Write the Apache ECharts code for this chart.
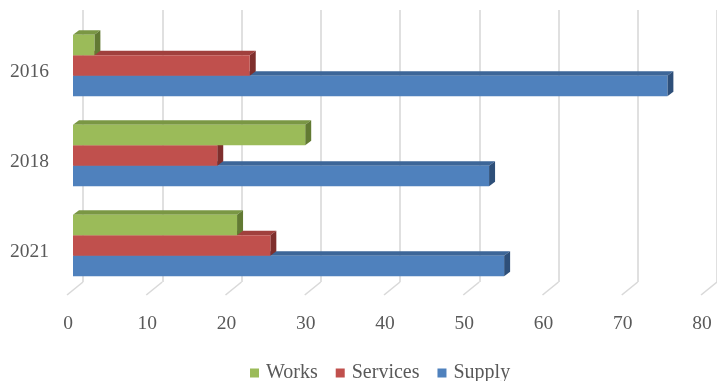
<!DOCTYPE html>
<html>
<head>
<meta charset="utf-8">
<script src="https://cdn.jsdelivr.net/npm/echarts@6/dist/echarts.min.js"></script>
<style>
  html, body { margin: 0; padding: 0; background: #ffffff; }
  #chart { width: 717px; height: 381px; }
</style>
</head>
<body>
<div id="chart"></div>
<script>
// Share of contracts by type, per year (percent)
const years = ['2016', '2018', '2021'];
const works = [2.7, 29.3, 20.7];
const services = [22.3, 18.2, 24.9];
const supply = [75.0, 52.5, 54.4];
const tickValues = [0, 10, 20, 30, 40, 50, 60, 70, 80];

const FONT = '"Liberation Serif", "Times New Roman", serif';
const GRID_COLOR = '#D9D9D9';

// Face colours for the pseudo-3D boxes: front, top, side
const palette = {
  Works:    { front: '#9BBB59', top: '#7A9744', side: '#627A33' },
  Services: { front: '#C0504D', top: '#A0403D', side: '#7F2F2D' },
  Supply:   { front: '#4F81BD', top: '#3D6698', side: '#2E4F79' }
};

// Depth offset of the boxes (right, up)
const DX = 6, DY = 4.5;

function boxRenderer(name, slot) {
  const c = palette[name];
  return function (params, api) {
    const v = api.value(0);
    const cat = api.value(1);
    const p0 = api.coord([0, cat]);
    const p1 = api.coord([v, cat]);
    const band = api.size([0, 1])[1];
    const h = band * 0.227;
    const top = p0[1] + (slot - 1.5) * h;
    const x0 = p0[0], x1 = p1[0];
    return {
      type: 'group',
      children: [
        {
          type: 'polygon',
          shape: { points: [[x0, top], [x0 + DX, top - DY], [x1 + DX, top - DY], [x1, top]] },
          style: { fill: c.top }
        },
        {
          type: 'polygon',
          shape: { points: [[x1, top], [x1 + DX, top - DY], [x1 + DX, top + h - DY], [x1, top + h]] },
          style: { fill: c.side }
        },
        {
          type: 'rect',
          shape: { x: x0, y: top, width: x1 - x0, height: h },
          style: { fill: c.front }
        }
      ]
    };
  };
}

function boxSeries(name, values, slot) {
  return {
    name: name,
    type: 'custom',
    xAxisIndex: 0,
    yAxisIndex: 0,
    itemStyle: { color: palette[name].front },
    encode: { x: 0, y: 1 },
    data: values.map((v, i) => [v, i]),
    renderItem: boxRenderer(name, slot),
    z: 3
  };
}

const chart = echarts.init(document.getElementById('chart'), null, { renderer: 'canvas' });

chart.setOption({
  backgroundColor: '#ffffff',
  animation: false,
  grid: [
    // bars
    { left: 73, width: 634, top: 20.5, height: 270 },
    // back wall with vertical gridlines
    { left: 83, width: 636, top: 10, bottom: 99 },
    // front edge carrying the value labels
    { left: 68, width: 634, top: 290, bottom: 80 },
    // front edge carrying the year labels
    { left: 73, width: 634, top: 27, height: 270 }
  ],
  xAxis: [
    { gridIndex: 0, type: 'value', min: 0, max: 80, interval: 10, show: false },
    {
      gridIndex: 1, type: 'value', min: 0, max: 80, interval: 10,
      axisLine: { show: false }, axisTick: { show: false }, axisLabel: { show: false },
      splitLine: { show: true, lineStyle: { color: GRID_COLOR, width: 1.6 } }
    },
    {
      gridIndex: 2, type: 'value', min: 0, max: 80, interval: 10,
      axisLine: { show: false }, axisTick: { show: false }, splitLine: { show: false },
      axisLabel: { color: '#595959', fontFamily: FONT, fontSize: 19.5, margin: 13 }
    },
    { gridIndex: 3, type: 'value', min: 0, max: 80, interval: 10, show: false }
  ],
  yAxis: [
    { gridIndex: 0, type: 'category', inverse: true, data: years, show: false },
    { gridIndex: 1, type: 'value', min: 0, max: 1, show: false },
    { gridIndex: 2, type: 'value', min: 0, max: 1, show: false },
    {
      gridIndex: 3, type: 'category', inverse: true, data: years,
      axisLine: { show: false }, axisTick: { show: false }, splitLine: { show: false },
      axisLabel: { color: '#595959', fontFamily: FONT, fontSize: 19.5, margin: 24 }
    }
  ],
  legend: {
    data: ['Works', 'Services', 'Supply'],
    left: 245,
    top: 358,
    icon: 'rect',
    itemWidth: 9,
    itemHeight: 9,
    itemGap: 18,
    textStyle: { color: '#595959', fontFamily: FONT, fontSize: 20, padding: [0, 0, 0, 2] }
  },
  series: [
    // slanted floor lines running from the back wall to the front edge
    {
      type: 'custom',
      xAxisIndex: 1,
      yAxisIndex: 1,
      silent: true,
      encode: { x: 0, y: 1 },
      data: tickValues.map(v => [v, 0]),
      renderItem: function (params, api) {
        const p = api.coord([api.value(0), 0]);
        return {
          type: 'line',
          shape: { x1: p[0], y1: p[1], x2: p[0] - 16, y2: p[1] + 13 },
          style: { stroke: GRID_COLOR, lineWidth: 1.6 }
        };
      },
      z: 1
    },
    boxSeries('Supply', supply, 2),
    boxSeries('Services', services, 1),
    boxSeries('Works', works, 0)
  ]
});
</script>
</body>
</html>
